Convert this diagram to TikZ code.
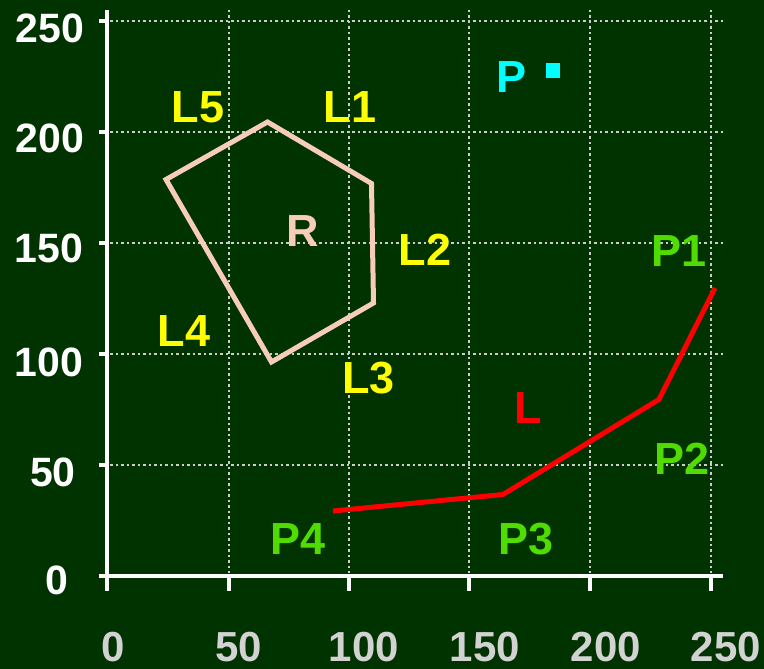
\documentclass[tikz,border=0pt]{standalone}
\usepackage{fontspec}
\setmainfont{Liberation Sans}
\definecolor{bg}{RGB}{0,51,0}
\definecolor{gridc}{RGB}{205,205,205}
\definecolor{xlab}{RGB}{210,210,210}
\definecolor{lyellow}{RGB}{255,255,0}
\definecolor{lgreen}{RGB}{80,220,0}
\definecolor{pinkr}{RGB}{248,204,186}
\definecolor{cyanp}{RGB}{0,255,255}
\tikzset{
  biglab/.style={inner sep=0pt, font=\fontsize{45}{45}\selectfont\bfseries},
  ylab/.style={inner sep=0pt, text=white, font=\fontsize{41}{41}\selectfont\bfseries},
  xlabel/.style={inner sep=0pt, anchor=base, text=xlab, font=\fontsize{42}{42}\selectfont\bfseries},
  gridline/.style={gridc, line width=2.5pt, dash pattern=on 2.5pt off 3pt},
  axisline/.style={white, line width=3.5pt},
}
\begin{document}
\begin{tikzpicture}[x=1pt,y=-1pt]
\fill[bg] (0,0) rectangle (764,669);
\useasboundingbox (0,0) rectangle (764,669);
% grid
\foreach \yy in {21,132,243,354,465} \draw[gridline] (110,\yy) -- (723,\yy);
\foreach \xx in {229,349,469,590,711} \draw[gridline] (\xx,10) -- (\xx,573);
% axes
\draw[axisline] (107,10) -- (107,591);
\draw[axisline] (99,576) -- (723,576);
\foreach \yy in {21,132,243,354,465} \draw[axisline] (99,\yy) -- (107,\yy);
\foreach \xx in {229,349,469,590,711} \draw[axisline] (\xx,576) -- (\xx,591);
% y labels
\node[ylab] (y250) at (50,28) {250};
\node[ylab] (y200) at (50,138) {200};
\node[ylab] (y150) at (49,248) {150};
\node[ylab] (y100) at (49,362) {100};
\node[ylab] (y50) at (53,472) {50};
\node[ylab] (y0) at (57,580) {0};
% x labels
\node[xlabel] (x0) at (113,661) {0};
\node[xlabel] (x50) at (239,661) {50};
\node[xlabel] (x100) at (364,661) {100};
\node[xlabel] (x150) at (485,661) {150};
\node[xlabel] (x200) at (606,661) {200};
\node[xlabel] (x250) at (726,661) {250};
% polygon R
\coordinate (v1) at (267.5,122);
\coordinate (v2) at (371.5,183.5);
\coordinate (v3) at (373.5,303);
\coordinate (v4) at (271.5,362);
\coordinate (v5) at (166,179.5);
\draw[pinkr, line width=5pt, line join=miter] (v1) -- (v2) -- (v3) -- (v4) -- (v5) -- cycle;
% line L
\coordinate (p4) at (333,511);
\coordinate (p3) at (503,494.5);
\coordinate (p2) at (659,399.5);
\coordinate (p1) at (715,288);
\draw[red, line width=5pt] (p4) -- (p3) -- (p2) -- (p1);
% point P
\node[fill=cyanp, minimum width=14pt, minimum height=15pt, inner sep=0pt] (pt) at (553,71) {};
% labels
\node[biglab, text=lyellow] (l5) at (198,107) {L5};
\node[biglab, text=lyellow] (l1) at (350,107) {L1};
\node[biglab, text=lyellow] (l2) at (425,250) {L2};
\node[biglab, text=lyellow] (l3) at (368.5,378) {L3};
\node[biglab, text=lyellow] (l4) at (184,331) {L4};
\node[biglab, text=pinkr] (rl) at (302.5,231) {R};
\node[biglab, text=red] (ll) at (528.5,408.5) {L};
\node[biglab, text=cyanp] (pl) at (511.5,77) {P};
\node[biglab, text=lgreen] (lp1) at (679.5,251) {P1};
\node[biglab, text=lgreen] (lp2) at (682.5,459) {P2};
\node[biglab, text=lgreen] (lp3) at (526,539) {P3};
\node[biglab, text=lgreen] (lp4) at (298,539) {P4};
\end{tikzpicture}
\end{document}
